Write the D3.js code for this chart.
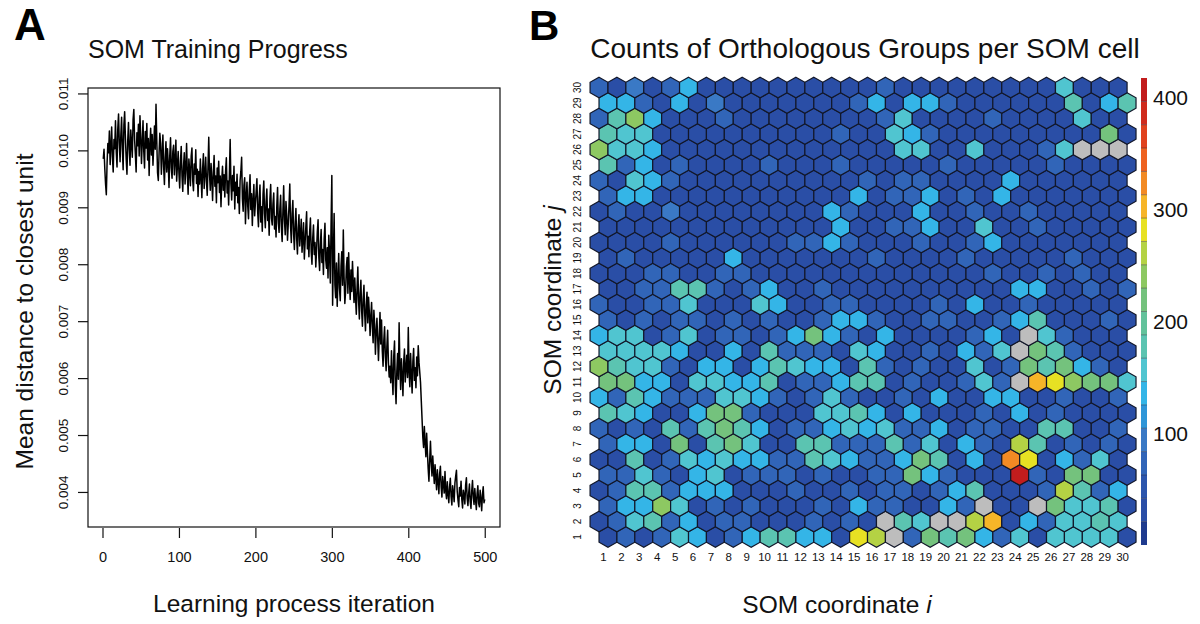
<!DOCTYPE html>
<html>
<head>
<meta charset="utf-8">
<script src="https://cdn.jsdelivr.net/npm/d3@7"></script>
<style>
  html, body { margin: 0; padding: 0; background: #fff; }
  svg { display: block; font-family: "Liberation Sans", Arial, Helvetica, sans-serif; }
</style>
</head>
<body>
<svg id="fig" width="1200" height="624"></svg>
<script>
// ---------- Panel A: SOM training progress ----------
// Mean distance to the closest unit for iterations 1..500, in units of 1e-5.
const meanDistanceE5 = [
  985,1002,968,941,922,978,1012,996,1034,975,1008,1041,989,962,1019,1003,1052,997,971,1038,1064,1012,980,1027,1058,
  1003,966,1045,1068,1021,985,958,1017,1049,1002,974,1036,1011,988,1054,1072,1019,993,962,1031,1008,1046,990,1061,1024,
  977,1015,1052,998,969,1033,1004,1047,983,1021,956,1010,1039,992,1028,974,1006,1043,1002,1081,1018,961,947,995,1030,
  1012,958,993,1027,971,940,988,1015,962,1003,977,935,991,1022,969,951,998,1009,957,982,1018,946,973,998,960,
  934,981,1007,955,928,972,996,941,969,1012,958,923,985,964,938,990,1004,947,929,976,958,1001,942,967,919,
  963,941,985,952,917,968,994,933,959,988,946,921,972,1023,958,930,977,949,912,962,991,937,955,908,969,
  943,981,926,955,901,948,972,930,957,918,963,987,925,946,904,958,1019,941,913,956,929,972,897,944,921,
  958,908,935,889,947,963,988,915,893,938,952,871,919,944,902,880,931,957,896,924,868,912,940,885,907,
  928,950,892,866,917,939,874,901,858,923,946,889,864,910,932,877,897,851,915,940,881,869,906,925,862,
  884,848,902,935,873,856,897,921,865,840,893,938,878,852,910,886,842,871,904,941,867,838,889,912,853,
  826,871,898,845,818,864,887,832,853,879,821,845,873,809,838,866,892,827,849,813,858,881,822,800,846,
  869,817,838,795,824,857,878,812,789,834,861,803,826,782,845,872,808,793,829,776,851,819,767,870,956,
  728,812,889,764,741,802,726,775,819,758,736,796,822,763,860,778,731,752,795,812,749,820,772,738,790,
  752,805,768,733,776,741,712,758,795,736,704,749,772,718,691,740,763,712,683,728,751,697,742,716,675,
  708,733,689,662,719,694,642,681,705,668,631,674,715,660,702,648,621,667,690,638,613,656,684,627,602,
  621,592,648,603,571,639,665,587,555,612,643,598,697,622,580,634,606,569,628,651,593,617,640,601,689,
  612,585,643,607,574,629,652,596,618,583,637,604,657,628,610,592,560,528,496,478,515,487,462,503,470,
  441,419,456,489,452,428,463,437,415,448,426,404,439,418,397,432,445,409,391,427,414,398,436,402,388,
  418,396,381,409,424,392,377,411,399,383,416,428,438,401,386,374,408,393,419,387,372,403,395,379,412,
  425,389,376,398,414,383,371,402,420,391,378,406,386,369,397,411,380,374,403,388,367,395,409,381,387
];
const distanceTicks = [0.004, 0.005, 0.006, 0.007, 0.008, 0.009, 0.010, 0.011];
const iterationTicks = [0, 100, 200, 300, 400, 500];

// ---------- Panel B: orthologous-group counts per SOM cell ----------
// One array per grid row j = 1 (bottom) .. 30 (top); entries are columns i = 1..30.
// A count of 0 marks an empty cell.
const countsByRow = [
  [30,70,30,70,160,135,30,70,135,180,180,135,135,30,285,258,0,70,215,180,215,135,70,160,30,160,160,160,160,30],
  [30,70,160,180,70,135,30,70,70,30,30,30,70,30,70,30,0,180,160,0,0,258,305,30,135,70,160,160,180,160],
  [70,135,135,240,160,30,70,30,70,30,30,30,70,30,135,70,70,30,30,135,70,0,30,30,0,215,160,160,180,30],
  [30,70,180,180,70,135,135,135,30,30,30,70,30,30,70,30,70,70,30,70,135,180,30,30,30,70,258,180,70,135],
  [70,70,160,70,30,135,160,30,70,70,70,30,70,30,30,70,70,215,135,70,30,30,30,417,70,30,215,215,30,30],
  [30,30,180,30,70,160,135,160,135,135,70,70,180,160,135,70,70,135,215,180,30,135,30,325,285,30,135,70,160,30],
  [70,135,135,30,215,30,180,215,160,30,30,180,180,70,70,70,180,70,160,30,135,70,30,258,180,30,70,30,70,30],
  [70,30,70,30,180,70,180,215,180,135,30,70,70,135,160,135,160,70,70,135,30,70,70,30,30,180,180,30,30,70],
  [180,160,135,30,30,135,215,215,70,30,30,30,160,160,180,135,30,135,30,30,30,70,30,135,30,70,30,30,30,30],
  [135,70,180,135,70,70,70,160,160,135,70,30,70,160,70,30,30,70,30,135,30,30,135,135,30,30,70,30,30,70],
  [215,215,135,135,30,160,160,135,135,180,30,70,70,135,180,180,30,70,30,30,70,160,70,0,305,285,240,215,215,160],
  [240,180,160,160,70,30,135,135,30,135,180,160,135,135,30,180,70,30,70,30,30,160,30,70,215,180,215,135,70,30],
  [160,160,160,160,135,30,30,135,30,180,70,70,70,30,160,135,30,30,70,30,135,70,160,0,215,180,70,30,30,30],
  [135,160,160,30,70,160,30,70,70,30,70,135,215,135,70,30,135,30,30,30,30,70,135,30,0,160,70,30,30,30],
  [70,30,70,30,70,70,30,70,30,70,30,30,70,135,135,70,30,30,70,70,30,30,70,135,180,30,30,30,70,30],
  [70,30,30,70,70,160,30,30,30,160,135,30,30,70,70,30,30,30,30,70,30,135,30,30,70,30,30,30,30,30],
  [30,30,70,70,180,180,70,30,70,135,30,30,70,30,30,30,30,30,30,30,30,30,30,135,135,30,30,70,30,70],
  [30,30,30,70,70,30,30,70,70,30,30,30,30,30,30,30,30,30,30,30,30,30,70,30,30,70,30,70,30,30],
  [30,70,30,30,30,30,30,135,30,30,30,30,30,30,30,70,30,30,30,30,70,30,30,30,30,30,70,30,30,30],
  [30,30,30,30,70,30,30,30,30,30,30,70,70,135,70,30,30,30,70,30,30,70,135,30,30,30,30,30,30,30],
  [30,30,30,30,30,30,30,30,30,30,30,30,30,135,30,30,70,70,135,30,30,160,30,30,70,30,30,30,30,30],
  [30,70,30,30,95,30,30,30,30,30,30,30,30,135,70,30,30,30,135,30,30,70,30,30,70,30,30,30,30,30],
  [70,135,135,30,30,30,30,30,30,30,30,30,30,30,135,30,70,70,135,30,70,30,135,30,30,30,30,30,30,30],
  [70,30,160,135,70,30,30,30,30,30,30,30,30,30,30,70,30,70,70,30,30,30,30,135,30,30,30,30,30,30],
  [180,70,135,30,70,30,30,30,30,70,30,30,30,70,30,30,30,30,30,70,30,30,30,30,30,70,30,30,30,30],
  [240,160,160,135,30,30,30,30,30,30,30,30,30,30,30,30,30,160,160,30,30,160,30,30,30,70,160,0,0,0],
  [180,160,160,30,30,30,30,30,30,30,30,30,30,70,30,30,160,135,70,30,30,30,30,30,30,30,30,30,215,30],
  [70,180,240,135,30,30,30,70,30,30,30,30,30,30,30,30,70,160,30,30,30,30,70,30,30,30,30,160,30,30],
  [135,135,70,30,135,30,95,30,30,30,30,30,30,30,70,135,30,135,135,70,30,30,30,30,30,30,180,30,135,180],
  [70,30,95,30,70,135,30,30,30,30,30,30,30,30,30,30,70,30,30,30,30,30,30,30,30,30,160,30,30,30]
];
const gridIndex = d3.range(1, 31);          // SOM coordinates 1..30
const legendTicks = [100, 200, 300, 400];

// 20-step palette, low counts to high counts
const palette = [
  "#1f3b8e", "#2a4ea6", "#2c56ad", "#3165b8", "#3a79c5",
  "#2f96d8", "#34b5e7", "#50c5d0", "#5bc4b1", "#62c29b",
  "#74c27d", "#8dc862", "#b4d244", "#e7e123", "#f6b528",
  "#f28a24", "#ee6220", "#e0421e", "#cf2b1d", "#c21d1d"
];
const emptyColor = "#bdbdbd";

// ======================================================
const svg = d3.select("#fig");
const ink = "#111";

// ---------- Panel A ----------
const distance = meanDistanceE5.map(v => v / 1e5);
const series = distance.map((v, k) => ({ iter: k + 1, v }));
const xExt = d3.extent(series, d => d.iter);
const yExt = d3.extent(series, d => d.v);
const xPad = (xExt[1] - xExt[0]) * 0.04, yPad = (yExt[1] - yExt[0]) * 0.04;

const boxA = { left: 88, right: 500, top: 88, bottom: 527 };
const xA = d3.scaleLinear().domain([xExt[0] - xPad, xExt[1] + xPad]).range([boxA.left, boxA.right]);
const yA = d3.scaleLinear().domain([yExt[0] - yPad, yExt[1] + yPad]).range([boxA.bottom, boxA.top]);

const gA = svg.append("g");
gA.append("path")
  .datum(series)
  .attr("fill", "none")
  .attr("stroke", "#000")
  .attr("stroke-width", 1.5)
  .attr("stroke-linejoin", "round")
  .attr("d", d3.line().x(d => xA(d.iter)).y(d => yA(d.v)));

gA.append("rect")
  .attr("x", boxA.left).attr("y", boxA.top)
  .attr("width", boxA.right - boxA.left).attr("height", boxA.bottom - boxA.top)
  .attr("fill", "none").attr("stroke", ink).attr("stroke-width", 1.2);

const yAxisA = gA.append("g")
  .attr("transform", `translate(${boxA.left},0)`)
  .call(d3.axisLeft(yA).tickValues(distanceTicks).tickSize(10).tickFormat(d3.format(".3f")));
yAxisA.select(".domain").remove();
yAxisA.selectAll(".tick line").attr("stroke", ink).attr("stroke-width", 1.2);
yAxisA.selectAll(".tick text")
  .attr("x", null).attr("dy", null)
  .attr("text-anchor", "middle")
  .attr("transform", "translate(-20,0) rotate(-90)")
  .attr("font-size", 13.5).attr("fill", ink)
  .attr("font-family", "Liberation Sans, Arial, sans-serif");

const xAxisA = gA.append("g")
  .attr("transform", `translate(0,${boxA.bottom + 1})`)
  .call(d3.axisBottom(xA).tickValues(iterationTicks).tickSize(10).tickPadding(14));
xAxisA.select(".domain").remove();
xAxisA.selectAll(".tick line").attr("stroke", ink).attr("stroke-width", 1.2);
xAxisA.selectAll(".tick text").attr("font-size", 14.5).attr("fill", ink)
  .attr("font-family", "Liberation Sans, Arial, sans-serif");

gA.append("text").attr("x", 88).attr("y", 58)
  .attr("font-size", 25).attr("fill", ink).text("SOM Training Progress");
gA.append("text").attr("x", (boxA.left + boxA.right) / 2).attr("y", 612)
  .attr("text-anchor", "middle").attr("font-size", 24.5).attr("fill", ink)
  .text("Learning process iteration");
gA.append("text")
  .attr("transform", `translate(33,${(boxA.top + boxA.bottom) / 2 + 4}) rotate(-90)`)
  .attr("text-anchor", "middle").attr("font-size", 24.5).attr("fill", ink)
  .text("Mean distance to closest unit");
gA.append("text").attr("x", 14).attr("y", 40)
  .attr("font-size", 44).attr("font-weight", "bold").attr("fill", "#000").text("A");

// ---------- Panel B ----------
const gB = svg.append("g");
const colX = d3.scaleLinear().domain([1, 30]).range([603.5, 1122.6]);
const rowY = d3.scaleLinear().domain([1, 30]).range([537, 87.5]);
const colStep = colX(2) - colX(1);
const hexR = colStep / Math.sqrt(3);

const cells = [];
countsByRow.forEach((row, r) => {
  const j = r + 1;
  row.forEach((count, c) => {
    const i = c + 1;
    const shift = (j % 2 === 1 ? 1 : -1) * colStep / 4;
    cells.push({ i, j, count, cx: colX(i) + shift, cy: rowY(j) });
  });
});
const maxCount = d3.max(cells, d => d.count);
const binOf = v => Math.min(palette.length - 1, Math.floor(v / maxCount * palette.length));
const fillOf = v => v === 0 ? emptyColor : palette[binOf(v)];

function hexPath(cx, cy, r) {
  const pts = d3.range(6).map(k => {
    const a = Math.PI / 180 * (60 * k - 90);
    return [cx + r * Math.cos(a), cy + r * Math.sin(a)];
  });
  return "M" + pts.map(p => p[0].toFixed(2) + "," + p[1].toFixed(2)).join("L") + "Z";
}

gB.append("g").selectAll("path")
  .data(cells)
  .join("path")
  .attr("d", d => hexPath(d.cx, d.cy, hexR))
  .attr("fill", d => fillOf(d.count))
  .attr("stroke", "#121729")
  .attr("stroke-width", 1.2);

// column labels (i) and row labels (j)
gB.append("g").selectAll("text")
  .data(gridIndex)
  .join("text")
  .attr("x", d => colX(d)).attr("y", 561)
  .attr("text-anchor", "middle").attr("font-size", 11.5).attr("fill", ink)
  .text(d => d);
gB.append("g").selectAll("text")
  .data(gridIndex)
  .join("text")
  .attr("transform", d => `translate(581,${rowY(d)}) rotate(-90)`)
  .attr("text-anchor", "middle").attr("font-size", 10).attr("fill", ink)
  .text(d => d);

gB.append("text").attr("x", 865).attr("y", 58)
  .attr("text-anchor", "middle").attr("font-size", 28).attr("fill", ink)
  .text("Counts of Orthologous Groups per SOM cell");

const xTitle = gB.append("text").attr("x", 837).attr("y", 613)
  .attr("text-anchor", "middle").attr("font-size", 24.5).attr("fill", ink);
xTitle.append("tspan").text("SOM coordinate ");
xTitle.append("tspan").attr("font-style", "italic").text("i");

const yTitle = gB.append("text")
  .attr("transform", "translate(561,300) rotate(-90)")
  .attr("text-anchor", "middle").attr("font-size", 24.5).attr("fill", ink);
yTitle.append("tspan").text("SOM coordinate ");
yTitle.append("tspan").attr("font-style", "italic").text("j");

gB.append("text").attr("x", 529).attr("y", 40)
  .attr("font-size", 42).attr("font-weight", "bold").attr("fill", "#000").text("B");

// colour legend
const legY = d3.scaleLinear().domain([0, maxCount]).range([545, 78]);
const legX = 1141, legW = 6;
const binW = maxCount / palette.length;
const gL = gB.append("g");
gL.selectAll("rect")
  .data(palette)
  .join("rect")
  .attr("x", legX).attr("width", legW)
  .attr("y", (c, k) => legY((k + 1) * binW))
  .attr("height", (c, k) => legY(k * binW) - legY((k + 1) * binW))
  .attr("fill", c => c);
gL.selectAll("line")
  .data(d3.range(1, palette.length))
  .join("line")
  .attr("x1", legX).attr("x2", legX + legW)
  .attr("y1", k => legY(k * binW)).attr("y2", k => legY(k * binW))
  .attr("stroke", "#1a1a2a").attr("stroke-opacity", 0.5).attr("stroke-width", 0.8);
gL.selectAll("text")
  .data(legendTicks)
  .join("text")
  .attr("x", legX + legW + 6).attr("y", d => legY(d))
  .attr("dy", "0.36em").attr("font-size", 21).attr("fill", ink)
  .text(d => d);
</script>
</body>
</html>
